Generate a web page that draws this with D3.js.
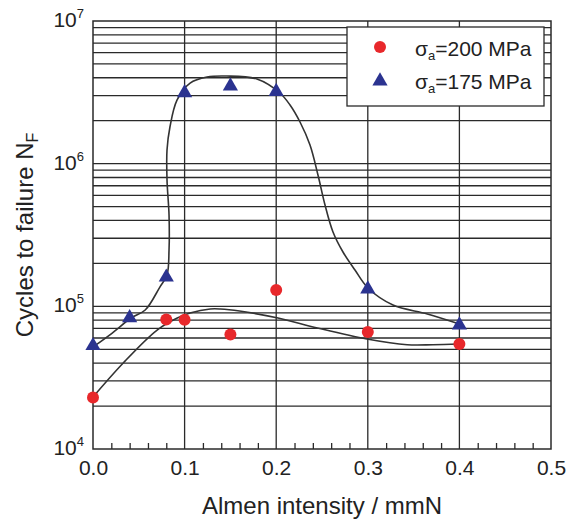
<!DOCTYPE html>
<html>
<head>
<meta charset="utf-8">
<script src="https://cdn.jsdelivr.net/npm/d3@7"></script>
<style>
  body { margin: 0; background: #fff; }
  svg text { font-family: "Liberation Sans", Arial, sans-serif; fill: #222; }
</style>
</head>
<body>
<div id="chart"></div>
<script>
// Data
var xTicks = [0, 0.1, 0.2, 0.3, 0.4, 0.5];
var xMinor = [0.02, 0.04, 0.06, 0.08, 0.12, 0.14, 0.16, 0.18, 0.22, 0.24, 0.26, 0.28, 0.32, 0.34, 0.36, 0.38, 0.42, 0.44, 0.46, 0.48];
var yDecades = [1e4, 1e5, 1e6, 1e7];
var yExponents = ["4", "5", "6", "7"];

// sigma_a = 200 MPa (circles)
var intensity200 = [0, 0.08, 0.1, 0.15, 0.2, 0.3, 0.4];
var cycles200 = [23000, 81000, 80500, 63500, 130000, 66000, 54500];
// sigma_a = 175 MPa (triangles)
var intensity175 = [0, 0.04, 0.08, 0.1, 0.15, 0.2, 0.3, 0.4];
var cycles175 = [53000, 83000, 160000, 3140000, 3500000, 3200000, 132000, 74000];

// hand drawn trend lines
var fitX200 = [0, 0.033, 0.07, 0.092, 0.106, 0.128, 0.139, 0.16, 0.202, 0.245, 0.299, 0.343, 0.371, 0.4];
var fitY200 = [23150, 40100, 68200, 82800, 89800, 95800, 95800, 92700, 82800, 70500, 59000, 53800, 53800, 54400];
var fitX175 = [0, 0.021, 0.0415, 0.057, 0.073, 0.0808, 0.083, 0.083, 0.0808, 0.0808, 0.084, 0.0917, 0.106, 0.1245, 0.146, 0.179, 0.204, 0.2151, 0.226, 0.2369, 0.2456, 0.2533, 0.262, 0.2729, 0.286, 0.3002, 0.3275, 0.365, 0.4];
var fitY175 = [51900, 65000, 82800, 94200, 136500, 165800, 248000, 437000, 768000, 1247000, 1807000, 2793000, 3675000, 4050000, 4115000, 3917000, 3128000, 2578000, 1959000, 1351000, 833000, 513000, 332000, 240400, 179700, 134400, 102100, 88400, 75200];

var seriesNames = ["=200 MPa", "=175 MPa"];
var red = "#e8282b", blue = "#2b3390";

var W = 567, H = 521;
var mLeft = 93, mRight = 551, mTop = 21, mBottom = 449;

var svg = d3.select("#chart").append("svg")
  .attr("width", W)
  .attr("height", H);

var x = d3.scaleLinear().domain([0, 0.5]).range([mLeft, mRight]);
var y = d3.scaleLog().domain([1e4, 1e7]).range([mBottom, mTop]);

// horizontal grid at 1..9 of every decade
var yGrid = y.ticks().filter(function(d) { return d > 1e4 && d < 1e7; });
svg.append("g").selectAll("line")
  .data(yGrid)
  .enter()
  .append("line")
  .attr("x1", mLeft).attr("x2", mRight)
  .attr("y1", function(d) { return y(d); })
  .attr("y2", function(d) { return y(d); })
  .attr("stroke", "#2a2a2a")
  .attr("stroke-width", 1.3);

// vertical grid
svg.append("g").selectAll("line")
  .data(xTicks.slice(1, -1))
  .enter()
  .append("line")
  .attr("x1", function(d) { return x(d); })
  .attr("x2", function(d) { return x(d); })
  .attr("y1", mTop).attr("y2", mBottom)
  .attr("stroke", "#2a2a2a")
  .attr("stroke-width", 1.3);

// minor ticks on the bottom, pointing in
svg.append("g")
  .attr("transform", "translate(0," + mBottom + ")")
  .call(d3.axisBottom(x).tickValues(xMinor).tickSize(-6).tickFormat(""))
  .call(function(g) {
    g.select(".domain").remove();
    g.selectAll("line").attr("stroke", "#2a2a2a").attr("stroke-width", 1.3);
  });

// x tick labels
svg.append("g")
  .attr("transform", "translate(0," + mBottom + ")")
  .call(d3.axisBottom(x).tickValues(xTicks).tickSize(0).tickPadding(11).tickFormat(d3.format(".1f")))
  .call(function(g) {
    g.select(".domain").remove();
    g.selectAll("text")
      .attr("font-size", 21)
      .attr("font-family", "Liberation Sans, Arial, sans-serif")
      .attr("fill", "#222")
      .attr("dy", "0.72em");
  });

// y tick labels with superscripts
var ylab = svg.append("g").selectAll("text")
  .data(yDecades)
  .enter()
  .append("text")
  .attr("x", 84)
  .attr("y", function(d) { return y(d) + 6; })
  .attr("text-anchor", "end")
  .attr("font-size", 21);
ylab.append("tspan").text("10");
ylab.append("tspan")
  .attr("font-size", 13)
  .attr("dy", -9)
  .text(function(d, i) { return yExponents[i]; });

// frame
svg.append("rect")
  .attr("x", mLeft).attr("y", mTop)
  .attr("width", mRight - mLeft).attr("height", mBottom - mTop)
  .attr("fill", "none")
  .attr("stroke", "#2a2a2a")
  .attr("stroke-width", 1.5);

// trend curves
var line = d3.line()
  .x(function(d) { return x(d[0]); })
  .y(function(d) { return y(d[1]); })
  .curve(d3.curveCatmullRom.alpha(0.5));

svg.append("path")
  .datum(d3.zip(fitX175, fitY175))
  .attr("d", line)
  .attr("fill", "none")
  .attr("stroke", "#333")
  .attr("stroke-width", 1.6);

svg.append("path")
  .datum(d3.zip(fitX200, fitY200))
  .attr("d", line)
  .attr("fill", "none")
  .attr("stroke", "#333")
  .attr("stroke-width", 1.6);

// points
svg.append("g").selectAll("circle")
  .data(d3.zip(intensity200, cycles200))
  .enter()
  .append("circle")
  .attr("cx", function(d) { return x(d[0]); })
  .attr("cy", function(d) { return y(d[1]); })
  .attr("r", 6)
  .attr("fill", red);

var tri = d3.symbol().type(d3.symbolTriangle).size(100);
svg.append("g").selectAll("path")
  .data(d3.zip(intensity175, cycles175))
  .enter()
  .append("path")
  .attr("d", tri)
  .attr("transform", function(d) { return "translate(" + x(d[0]) + "," + y(d[1]) + ")"; })
  .attr("fill", blue);

// legend
var lg = svg.append("g");
lg.append("rect")
  .attr("x", 347).attr("y", 27)
  .attr("width", 197).attr("height", 79)
  .attr("fill", "#fff")
  .attr("stroke", "#2a2a2a")
  .attr("stroke-width", 1.3);
lg.append("circle").attr("cx", 380).attr("cy", 47).attr("r", 6).attr("fill", red);
lg.append("path").attr("d", tri).attr("transform", "translate(380,81)").attr("fill", blue);

var rows = [56, 89];
seriesNames.forEach(function(name, i) {
  var t = lg.append("text")
    .attr("x", 415).attr("y", rows[i])
    .attr("font-size", 21);
  t.append("tspan").text("σ");
  t.append("tspan").attr("font-size", 13).attr("dy", 4).text("a");
  t.append("tspan").attr("dy", -4).text(name);
});

// axis titles
svg.append("text")
  .attr("x", (mLeft + mRight) / 2)
  .attr("y", 514)
  .attr("text-anchor", "middle")
  .attr("font-size", 24)
  .text("Almen intensity / mmN");

var yt = svg.append("text")
  .attr("transform", "translate(33," + ((mTop + mBottom) / 2) + ") rotate(-90)")
  .attr("text-anchor", "middle")
  .attr("font-size", 24);
yt.append("tspan").text("Cycles to failure N");
yt.append("tspan").attr("font-size", 16).attr("dy", 5).text("F");
</script>
</body>
</html>
